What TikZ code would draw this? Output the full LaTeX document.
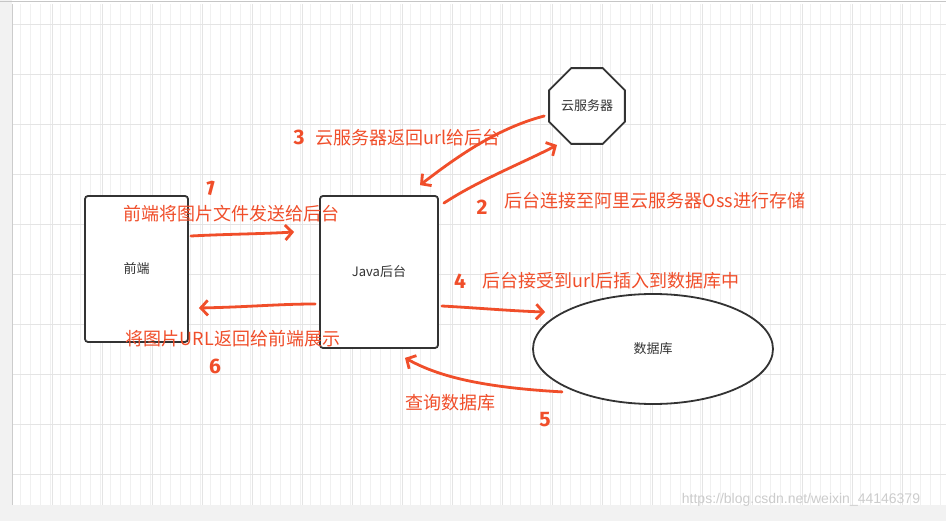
\documentclass[tikz,border=0pt]{standalone}
\usepackage{fontspec}
\setmainfont{Liberation Sans}
\newfontfamily\cjk{Noto Sans CJK SC}
\newfontfamily\digit{Fira Sans}
\usetikzlibrary{shapes.geometric,arrows.meta,calc}
\definecolor{ink}{HTML}{333333}
\definecolor{mark}{RGB}{240,78,42}
\definecolor{gridminor}{HTML}{F0F0F0}
\definecolor{gridmajor}{HTML}{E4E4E4}
\tikzset{
  box/.style={draw=ink,line width=1.8pt,rounded corners=3pt,fill=white,inner sep=0pt},
  blk/.style={font=\cjk\fontsize{13}{15}\selectfont,text=ink},
  redtext/.style={font=\cjk\fontsize{18}{20}\selectfont,text=mark,inner sep=0pt},
  num/.style={font=\digit\bfseries\fontsize{21}{24}\selectfont,text=mark,inner sep=0pt},
  redarrow/.style={draw=mark,line width=2.8pt,line cap=round,line join=round,
    -{Straight Barb[length=7pt,width=15pt,line width=2.8pt]}},
}
\begin{document}
\begin{tikzpicture}[x=1pt,y=-1pt]
\useasboundingbox (0,0) rectangle (946,521);
% canvas
\fill[white] (0,0) rectangle (946,521);
\draw[gridminor,line width=0.6pt] (12,4) grid[step=10] (946,505);
\foreach \gx in {52,102,...,946} \draw[gridmajor,line width=0.7pt] (\gx,4) -- (\gx,505);
\foreach \gy in {24,74,...,505} \draw[gridmajor,line width=0.7pt] (12,\gy) -- (946,\gy);
\fill[gray!10] (0,505) rectangle (946,521);
\fill[gray!10] (0,0) rectangle (12,505);
\draw[gray!40,line width=0.8pt] (12,4) -- (12,505);
\draw[gray!45,line width=1pt] (0,2) -- (946,2);
% nodes
\node[box,minimum width=103pt,minimum height=146pt,blk] (front) at (136.5,269) {前端};
\node[box,minimum width=118pt,minimum height=152pt,blk] (java) at (379,272) {Java后台};
\node[draw=ink,line width=1.8pt,fill=white,regular polygon,regular polygon sides=8,
      minimum size=82pt,inner sep=0pt,blk] (cloud) at (587,106) {云服务器};
\node[draw=ink,line width=1.8pt,fill=white,ellipse,minimum width=240pt,minimum height=110pt,
      inner sep=0pt,blk] (db) at (653,349) {数据库};
% red arrows
\draw[redarrow] ($(front.east)+(2,-33)$) .. controls ($(front.east)+(40,-35)$) and ($(java.west)+(-60,-38)$) .. ($(java.west)+(-25,-40)$);
\draw[redarrow] ($(java.west)+(-4,32)$) .. controls ($(java.west)+(-40,32)$) and ($(front.east)+(60,38)$) .. ($(front.east)+(10,39)$);
\draw[redarrow] ($(cloud.west)+(-4,10)$) .. controls ($(cloud.west)+(-50,22)$) and ($(java.north)+(80,-40)$) .. ($(java.north)+(41,-10)$);
\draw[redarrow] ($(java.north east)+(5,8)$) .. controls ($(java.north east)+(40,-15)$) and ($(cloud.center)+(-60,55)$) .. ($(cloud.center)+(-30,39)$);
\draw[redarrow] ($(java.east)+(3,34)$) .. controls ($(java.east)+(40,36)$) and ($(db.west)+(-20,-38)$) .. ($(db.west)+(13,-37)$);
\draw[redarrow] ($(db.south)+(-91,-13)$) .. controls ($(db.south)+(-180,-18)$) and ($(java.south)+(55,25)$) .. ($(java.south)+(26,9)$);
% red labels
\node[redtext] (t1) at (231,214) {前端将图片文件发送给后台};
\node[redtext] (t6) at (233,339) {将图片URL返回给前端展示};
\node[redtext] (t3) at (408,138) {云服务器返回url给后台};
\node[redtext] (t2) at (655,201) {后台连接至阿里云服务器Oss进行存储};
\node[redtext] (t4) at (611,281) {后台接受到url后插入到数据库中};
\node[redtext] (t5) at (450,403) {查询数据库};
\node[num,rotate=-15] (n1) at (210,188) {1};
\node[num] (n3) at (299,137) {3};
\node[num] (n2) at (482,207) {2};
\node[num] (n4) at (460,281) {4};
\node[num] (n5) at (545,420) {5};
\node[num] (n6) at (215,366) {6};
% watermark
\node[font=\fontsize{14}{16}\selectfont,text=gray!40] (wm) at (801,500) {https://blog.csdn.net/weixin\_44146379};
\end{tikzpicture}
\end{document}
